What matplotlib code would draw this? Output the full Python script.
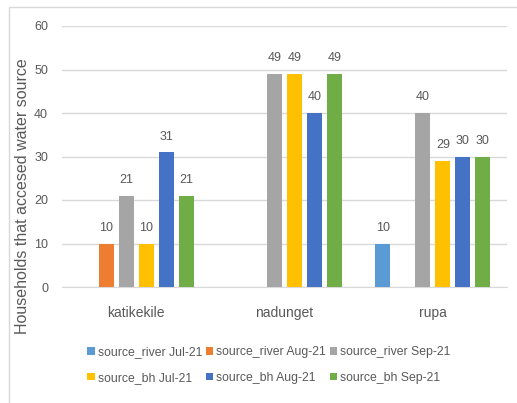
import numpy as np
import matplotlib.pyplot as plt
from matplotlib.patches import Rectangle

plt.rcParams['font.family'] = ['Liberation Sans Narrow', 'Liberation Sans', 'DejaVu Sans']

categories = ['katikekile', 'nadunget', 'rupa']
series_names = ['source_river Jul-21', 'source_river Aug-21', 'source_river Sep-21',
                'source_bh Jul-21', 'source_bh Aug-21', 'source_bh Sep-21']
# None = no bar drawn
river_jul = [None, None, 10]
river_aug = [10, None, None]
river_sep = [21, 49, 40]
bh_jul = [10, 49, 29]
bh_aug = [31, 40, 30]
bh_sep = [21, 49, 30]
series = [river_jul, river_aug, river_sep, bh_jul, bh_aug, bh_sep]
colors = ['#5B9BD5', '#ED7D31', '#A5A5A5', '#FFC000', '#4472C4', '#70AD47']

txt = '#595959'
fig = plt.figure(figsize=(5.17, 4.03), dpi=100)
fig.patches.append(Rectangle((9 / 517, -0.01), 1.0, 1 - 7 / 403 + 0.01, transform=fig.transFigure,
                             fill=False, edgecolor='#D9D9D9', lw=1.0))
ax = fig.add_axes([62 / 517, 1 - 287 / 403, 445 / 517, 261 / 403])

x = np.arange(len(categories))
step = 0.135
width = 0.101
handles = []
for i, (vals, c) in enumerate(zip(series, colors)):
    xs = x + (i - 2.5) * step
    h = None
    for xi, v in zip(xs, vals):
        if v is None:
            continue
        h = ax.bar(xi, v, width, color=c, zorder=3)
        ax.text(xi, v + 2.2, str(v), ha='center', va='bottom', fontsize=9, color=txt)
    if h is None:
        h = ax.bar(0, 0, width, color=c)
    handles.append(h)

ax.set_ylim(0, 60)
ax.set_xlim(-0.5, 2.5)
ax.set_yticks(range(0, 61, 10))
ax.yaxis.grid(True, color='#D9D9D9', lw=1.0, zorder=0)
ax.set_axisbelow(True)
for s in ['top', 'right', 'left']:
    ax.spines[s].set_visible(False)
ax.spines['bottom'].set_color('#D9D9D9')
ax.tick_params(axis='both', length=0, colors=txt, labelsize=9)
ax.tick_params(axis='y', pad=10)
ax.tick_params(axis='x', pad=14, labelsize=10)
ax.set_xticks(x)
ax.set_xticklabels(categories)
ax.set_ylabel('Households that accesed water source', fontsize=11.5, color=txt)
ax.yaxis.set_label_coords(-0.072, 0.35)

order = [0, 3, 1, 4, 2, 5]
fig.legend([handles[i] for i in order], [series_names[i] for i in order], ncol=3,
           loc='center', bbox_to_anchor=(0.52, 1 - 365 / 403), frameon=False,
           fontsize=8.8, labelcolor=txt, handlelength=0.6, handleheight=0.6,
           handletextpad=0.25, columnspacing=0.3, labelspacing=1.1)

fig.savefig('out.png', dpi=100)
